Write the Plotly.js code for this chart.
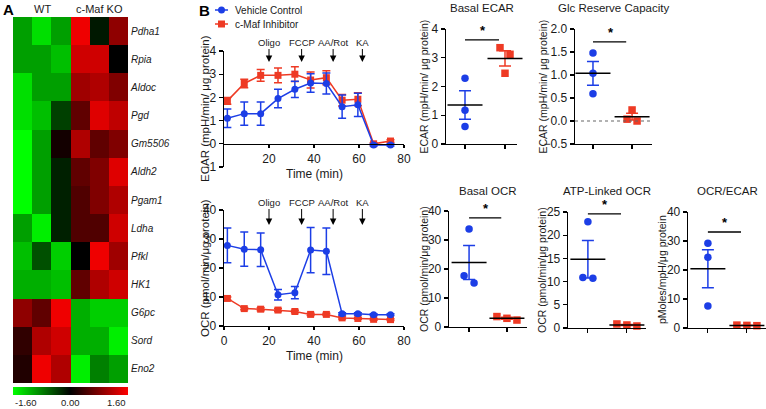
<!DOCTYPE html>
<html><head><meta charset="utf-8">
<script src="https://cdn.plot.ly/plotly-3.0.1.min.js"></script>
<style>html,body{margin:0;padding:0;background:#fff}#chart{width:766px;height:409px}</style>
</head><body><div id="chart"></div>
<script>
// ================= DATA =================
// Panel A heatmap
const genes = ['Pdha1','Rpia','Aldoc','Pgd','Gm5506','Aldh2','Pgam1','Ldha','Pfkl','HK1','G6pc','Sord','Eno2'];
const samples = ['WT 1','WT 2','WT 3','KO 1','KO 2','KO 3'];
const expression = [
  [-1.0,-1.4,-1.0, 1.5,-0.15, 0.9],
  [-1.0,-1.0,-1.2, 1.3, 1.3,  0.0],
  [-1.4,-1.0,-1.0, 1.0, 1.1,  0.8],
  [-1.4,-1.2,-0.4, 0.6, 1.4,  1.2],
  [-1.6,-1.0, 0.12,1.1, 0.6,  0.8],
  [-1.6,-1.0,-0.2, 0.6, 0.8,  1.4],
  [-1.6,-1.0,-0.2, 0.5, 0.8,  1.1],
  [-1.0,-1.5,-0.2, 0.5, 0.5,  1.3],
  [-1.2,-0.5,-1.3, 0.0, 1.5,  1.0],
  [-1.1,-1.1,-1.2, 0.6, 1.1,  1.3],
  [ 0.9, 0.6, 1.5,-1.1,-1.3, -1.3],
  [ 0.3, 1.1, 1.3,-1.1,-1.1, -1.5],
  [ 0.2, 1.5, 1.1,-1.5,-0.8, -1.0]
];
const colorbarTicks = [-1.6, 0, 1.6];
const colorbarTickText = ['-1.60', '0.00', '1.60'];
const groupLabels = ['WT', 'c-Maf KO'];

// Panel B time courses
const seriesNames = ['Vehicle Control', 'c-Maf Inhibitor'];
const timeMin = [1.5, 9, 16.3, 24, 31.5, 38.5, 45.5, 52.5, 59.5, 66.5, 74];
const ecarVehicle      = [1.1, 1.3, 1.3, 1.95, 2.35, 2.62, 2.6, 1.6, 1.68, -0.05, -0.05];
const ecarVehicleSem   = [0.4, 0.5, 0.5, 0.4, 0.35, 0.4, 0.45, 0.5, 0.5, 0.05, 0.05];
const ecarInhibitor    = [1.85, 2.6, 2.95, 2.95, 3.0, 2.75, 2.85, 1.88, 1.92, 0.0, 0.12];
const ecarInhibitorSem = [0.15, 0.18, 0.25, 0.32, 0.32, 0.35, 0.3, 0.25, 0.28, 0.05, 0.05];
const ocrVehicle       = [27.8, 26.5, 26.3, 10.8, 11.5, 26.2, 25.8, 4.2, 4.2, 3.9, 3.9];
const ocrVehicleSem    = [6.0, 5.9, 5.8, 1.8, 2.1, 7.8, 8.0, 0.4, 0.4, 0.3, 0.3];
const ocrInhibitor     = [9.5, 6.0, 5.8, 5.5, 5.0, 4.0, 4.0, 2.8, 2.6, 2.3, 2.2];
const ocrInhibitorSem  = [0.5, 0.4, 0.5, 0.5, 0.4, 0.4, 0.4, 0.4, 0.3, 0.3, 0.3];
const injectionTimes  = [20, 34.5, 48.5, 61.5];
const injectionLabels = ['Oligo', 'FCCP', 'AA/Rot', 'KA'];

// Panel B summary dot plots (individual replicates)
const basalEcarVehicle    = [2.29, 1.17, 0.61];
const basalEcarInhibitor  = [3.35, 3.12, 2.46];
const glcReserveVehicle   = [1.48, 1.04, 0.59];
const glcReserveInhibitor = [0.24, 0.04, 0.0];
const basalOcrVehicle     = [33.8, 17.7, 15.2];
const basalOcrInhibitor   = [3.6, 3.0, 2.4];
const atpOcrVehicle       = [22.9, 10.9, 10.7];
const atpOcrInhibitor     = [0.87, 0.65, 0.43];
const ocrEcarVehicle      = [29.2, 24.4, 7.6];
const ocrEcarInhibitor    = [1.0, 0.9, 0.8];

// ================= STYLE / LAYOUT =================
const W = 766, H = 409;
const BLUE = 'rgb(28,62,230)', RED = 'rgb(238,58,36)', TXT = '#1a1a1a';
const FONT = '"Liberation Sans", Arial, Helvetica, sans-serif';
const fx = p => p / W, fy = p => 1 - p / H;
const dom = (a, b) => [a / W, b / W];
const domY = (top, bottom) => [1 - bottom / H, 1 - top / H];

function axisBase(extra) {
  return Object.assign({
    showline: true, linecolor: '#000', linewidth: 1.3, ticks: 'outside', ticklen: 4,
    tickwidth: 1.2, tickcolor: '#000', showgrid: false, zeroline: false,
    tickfont: {size: 12, color: TXT}, fixedrange: true
  }, extra);
}
const mean = a => a.reduce((s, v) => s + v, 0) / a.length;
const sem = a => { const m = mean(a); const v = a.reduce((s, x) => s + (x - m) * (x - m), 0) / (a.length - 1); return Math.sqrt(v) / Math.sqrt(a.length); };

// simple beeswarm: points overlapping vertically are spread side by side
function swarm(values, center, pxY, pxX, spacing, thresh) {
  const idx = values.map((v, i) => i).sort((a, b) => values[b] - values[a]);
  const rows = []; let cur = [idx[0]];
  for (let k = 1; k < idx.length; k++) {
    if ((values[idx[k - 1]] - values[idx[k]]) * pxY < thresh) cur.push(idx[k]);
    else { rows.push(cur); cur = [idx[k]]; }
  }
  rows.push(cur);
  const xs = new Array(values.length);
  rows.forEach(r => r.forEach((i, j) => { xs[i] = center + (j - (r.length - 1) / 2) * spacing / pxX; }));
  return xs;
}

const traces = [];
const annotations = [];
const shapes = [];
const layout = {
  width: W, height: H, margin: {l: 0, r: 0, t: 0, b: 0},
  paper_bgcolor: '#fff', plot_bgcolor: 'rgba(0,0,0,0)', showlegend: false,
  font: {family: FONT, size: 12, color: TXT},
  annotations: annotations, shapes: shapes
};
const ann = (o) => annotations.push(Object.assign({xref: 'paper', yref: 'paper', showarrow: false,
  xanchor: 'center', yanchor: 'middle', font: {size: 11, color: TXT}}, o));

// ---------- Panel A: heatmap ----------
const hmX = [13, 128], hmY = [17, 383];
traces.push({
  type: 'heatmap', x: samples, y: genes, z: expression, xaxis: 'x', yaxis: 'y',
  zmin: colorbarTicks[0], zmax: colorbarTicks[2],
  colorscale: [[0, 'rgb(0,255,0)'], [0.5, 'rgb(0,0,0)'], [1, 'rgb(255,0,0)']],
  colorbar: {
    orientation: 'h', x: fx((hmX[0] + hmX[1]) / 2), xanchor: 'center', y: fy(387), yanchor: 'top',
    len: (hmX[1] - hmX[0]) / W, lenmode: 'fraction', thickness: 8, thicknessmode: 'pixels',
    xpad: 0, ypad: 0, outlinewidth: 0, showticklabels: false, ticks: ''
  },
  hoverinfo: 'skip'
});
// colorbar labels: ends aligned inside the bar, as in the figure
ann({x: fx(hmX[0]), xanchor: 'left', y: fy(402), text: colorbarTickText[0], font: {size: 9.5, color: TXT}});
ann({x: fx((hmX[0] + hmX[1]) / 2), y: fy(402), text: colorbarTickText[1], font: {size: 9.5, color: TXT}});
ann({x: fx(hmX[1]), xanchor: 'right', y: fy(402), text: colorbarTickText[2], font: {size: 9.5, color: TXT}});

layout.xaxis = {domain: dom(hmX[0], hmX[1]), visible: false, fixedrange: true};
layout.yaxis = {domain: domY(hmY[0], hmY[1]), side: 'right', autorange: 'reversed', showline: false, ticks: '',
  showgrid: false, zeroline: false, tickfont: {size: 10, style: 'italic', color: TXT}, ticklabelstandoff: 2, fixedrange: true};
ann({x: fx(8), y: fy(9), text: '<b>A</b>', font: {size: 15, color: '#000'}});
ann({x: fx(42), y: fy(9), text: groupLabels[0]});
ann({x: fx(99), y: fy(9), text: groupLabels[1]});

// ---------- Panel B: time courses ----------
ann({x: fx(204), y: fy(10), text: '<b>B</b>', font: {size: 15, color: '#000'}});
// custom legend
[[BLUE, 10, 'circle', seriesNames[0]], [RED, 24, 'rect', seriesNames[1]]].forEach(([c, py, sym, name]) => {
  shapes.push({type: 'line', xref: 'paper', yref: 'paper', x0: fx(215), x1: fx(228), y0: fy(py), y1: fy(py), line: {color: c, width: 1.5}});
  shapes.push({type: sym, xref: 'paper', yref: 'paper', xsizemode: 'pixel', ysizemode: 'pixel',
    xanchor: fx(221.5), yanchor: fy(py), x0: -3.5, x1: 3.5, y0: -3.5, y1: 3.5, fillcolor: c, line: {width: 0}});
  ann({x: fx(233), y: fy(py), xanchor: 'left', text: name, font: {size: 10, color: TXT}});
});

const linePanels = [
  {xa: 'x2', ya: 'y2', xpx: [224, 404], ypx: [51, 167], yrange: [-1, 4], dtick: 1, xpos: 144,
   xticks: [20, 40, 60, 80], veh: ecarVehicle, vehSem: ecarVehicleSem, inh: ecarInhibitor, inhSem: ecarInhibitorSem,
   ytitle: 'ECAR (mpH/min/ μg protein)', xtitleY: 174, arrowTip: 62, arrowLen: 20},
  {xa: 'x3', ya: 'y3', xpx: [224, 404], ypx: [210, 326], yrange: [0, 40], dtick: 10, xpos: null,
   xticks: [0, 20, 40, 60, 80], veh: ocrVehicle, vehSem: ocrVehicleSem, inh: ocrInhibitor, inhSem: ocrInhibitorSem,
   ytitle: 'OCR (pmol/min/μg protein)', xtitleY: 356, arrowTip: 225, arrowLen: 23}
];
linePanels.forEach(p => {
  const n = p.xa.slice(1);
  [[p.inh, p.inhSem, RED, 'square', seriesNames[1]], [p.veh, p.vehSem, BLUE, 'circle', seriesNames[0]]].forEach(([v, e, c, s, name]) => {
    traces.push({type: 'scatter', mode: 'lines+markers', name: name, x: timeMin, y: v, xaxis: p.xa, yaxis: p.ya,
      line: {color: c, width: 1.5}, marker: {color: c, symbol: s, size: 7},
      error_y: {type: 'data', array: e, visible: true, color: c, thickness: 1.5, width: 4}, cliponaxis: false, hoverinfo: 'skip'});
  });
  const xa = axisBase({domain: dom(p.xpx[0], p.xpx[1]), range: [0, 80], tickvals: p.xticks, anchor: p.ya, ticklen: 3});
  if (p.xpos !== null) { xa.anchor = 'free'; xa.position = fy(p.xpos); }
  layout['xaxis' + n] = xa;
  layout['yaxis' + n] = axisBase({domain: domY(p.ypx[0], p.ypx[1]), range: p.yrange, dtick: p.dtick, anchor: p.xa});
  ann({x: fx(205), y: fy((p.ypx[0] + p.ypx[1]) / 2), text: p.ytitle, textangle: -90, font: {size: 11.5, color: TXT}});
  ann({x: fx((p.xpx[0] + p.xpx[1]) / 2), y: fy(p.xtitleY), text: 'Time (min)', font: {size: 12, color: TXT}});
  injectionTimes.forEach((t, i) => {
    annotations.push({xref: p.xa, yref: 'paper', x: t, y: fy(p.arrowTip), ax: 0, ay: -p.arrowLen,
      xanchor: 'center', yanchor: 'middle',
      text: injectionLabels[i], showarrow: true, arrowhead: 2, arrowsize: 1.3, arrowwidth: 1, arrowcolor: '#000',
      standoff: 0, startstandoff: 0, font: {size: 9.5, color: TXT}});
  });
});

// ---------- Panel B: summary dot plots ----------
const dotPanels = [
  {title: 'Basal ECAR', ytitle: 'ECAR (mpH/min/ μg protein)', xpx: [446, 517], ypx: [29, 144], xrange: [0.525, 2.3],
   yrange: [0, 4], dtick: 1, fmt: '', titleY: 8, ytitleX: 423, sigY: 3.62, veh: basalEcarVehicle, inh: basalEcarInhibitor},
  {title: 'Glc Reserve Capacity', ytitle: 'ECAR (mpH/min/ μg protein)', xpx: [575, 652], ypx: [29, 144], xrange: [0.54, 2.51],
   yrange: [-0.5, 2.0], dtick: 0.5, fmt: '.1f', titleY: 8, ytitleX: 542, sigY: 1.72, zero: true, veh: glcReserveVehicle, inh: glcReserveInhibitor},
  {title: 'Basal OCR', ytitle: 'OCR (pmol/min/μg protein)', xpx: [449, 527], ypx: [211, 327], xrange: [0.47, 2.53],
   yrange: [0, 40], dtick: 10, fmt: '', titleY: 191, ytitleX: 424, sigY: 37.6, veh: basalOcrVehicle, inh: basalOcrInhibitor},
  {title: 'ATP-Linked OCR', ytitle: 'OCR (pmol/min/μg protein)', xpx: [568, 646], ypx: [212, 328], xrange: [0.49, 2.49],
   yrange: [0, 25], dtick: 5, fmt: '', titleY: 191, ytitleX: 542, sigY: 24.6, veh: atpOcrVehicle, inh: atpOcrInhibitor},
  {title: 'OCR/ECAR', ytitle: 'pMoles/mpH/μg protein', xpx: [688, 766], ypx: [212, 328], xrange: [0.49, 2.49],
   yrange: [0, 40], dtick: 10, fmt: '', titleY: 191, ytitleX: 662, sigY: 33.1, veh: ocrEcarVehicle, inh: ocrEcarInhibitor}
];
dotPanels.forEach((p, i) => {
  const n = 4 + i, xa = 'x' + n, ya = 'y' + n;
  const pxY = (p.ypx[1] - p.ypx[0]) / (p.yrange[1] - p.yrange[0]);
  const pxX = (p.xpx[1] - p.xpx[0]) / (p.xrange[1] - p.xrange[0]);
  [[p.veh, 1, BLUE, 'circle', seriesNames[0]], [p.inh, 2, RED, 'square', seriesNames[1]]].forEach(([v, cx, c, s, name]) => {
    traces.push({type: 'scatter', mode: 'markers', name: name, x: swarm(v, cx, pxY, pxX, 10, 8), y: v, xaxis: xa, yaxis: ya,
      marker: {color: c, symbol: s, size: 7.5}, cliponaxis: false, hoverinfo: 'skip'});
  });
  [[p.veh, 1, BLUE], [p.inh, 2, RED]].forEach(([v, cx, c]) => {
    traces.push({type: 'scatter', mode: 'markers', x: [cx], y: [mean(v)], xaxis: xa, yaxis: ya, showlegend: false,
      marker: {symbol: 'line-ew', size: 25, color: '#000', line: {width: 1.5, color: '#000'}},
      error_y: {type: 'data', array: [sem(v)], visible: true, color: c, thickness: 1.5, width: 6}, cliponaxis: false, hoverinfo: 'skip'});
  });
  layout['xaxis' + n] = axisBase({domain: dom(p.xpx[0], p.xpx[1]), range: p.xrange, tickvals: [1, 2], showticklabels: false, anchor: ya});
  layout['yaxis' + n] = axisBase({domain: domY(p.ypx[0], p.ypx[1]), range: p.yrange, dtick: p.dtick, tickformat: p.fmt, anchor: xa});
  ann({x: fx((p.xpx[0] + p.xpx[1]) / 2), y: fy(p.titleY), text: p.title, font: {size: 11.5, color: TXT}});
  ann({x: fx(p.ytitleX), y: fy((p.ypx[0] + p.ypx[1]) / 2), text: p.ytitle, textangle: -90, font: {size: 10.5, color: TXT}});
  shapes.push({type: 'line', xref: xa, yref: ya, x0: 1, x1: 1.85, y0: p.sigY, y1: p.sigY, line: {color: '#000', width: 1.3}});
  annotations.push({xref: xa, yref: ya, x: 1.45, y: p.sigY, xanchor: 'center', yanchor: 'bottom', showarrow: false,
    text: '<b>*</b>', font: {size: 13, color: '#000'}});
  if (p.zero) shapes.push({type: 'line', xref: xa + ' domain', yref: ya, x0: 0, x1: 1, y0: 0, y1: 0, line: {color: '#666', width: 1.2, dash: 'dot'}});
});

Plotly.newPlot('chart', traces, layout, {staticPlot: true, displayModeBar: false});
</script></body></html>
